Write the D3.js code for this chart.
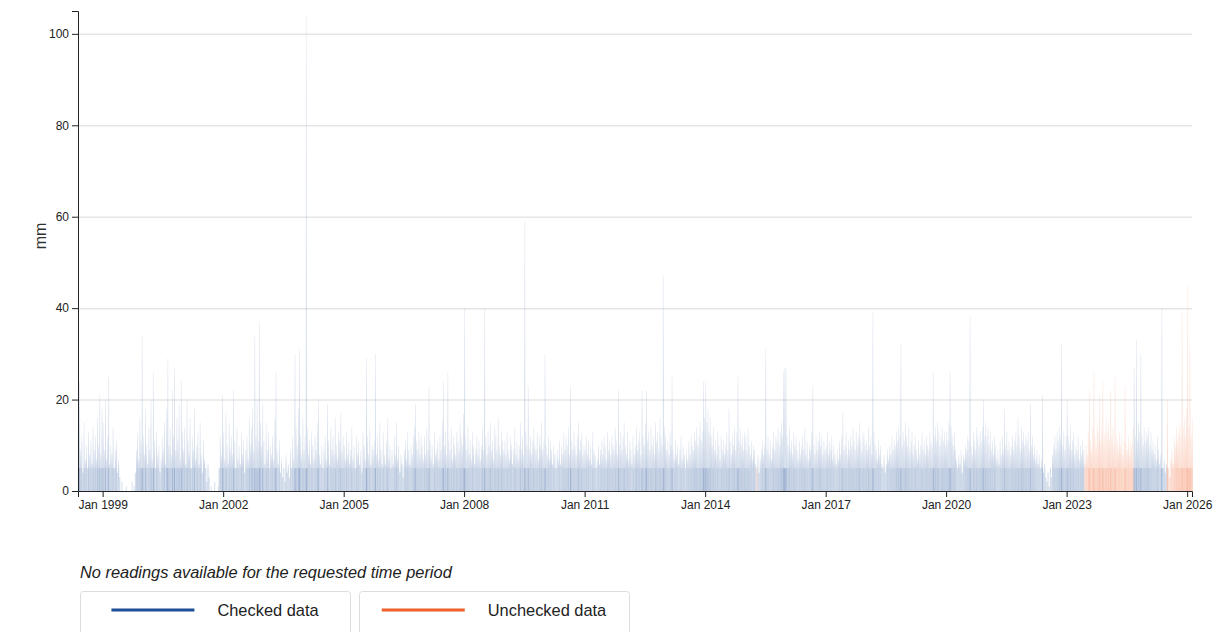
<!DOCTYPE html>
<html>
<head>
<meta charset="utf-8">
<script src="https://cdn.jsdelivr.net/npm/d3@7"></script>
<style>
  html, body { margin: 0; padding: 0; background: #fff; }
  svg { display: block; font-family: "Liberation Sans", Arial, sans-serif; }
  .axis text { font-size: 12px; fill: #222; }
  .axis path, .axis line { stroke: #222; }
</style>
</head>
<body>
<svg id="chart" width="1224" height="632"></svg>
<script>
// Daily rainfall summarised by dekad (days 1-10, 11-20, 21-end of each month):
// the largest daily total (mm) recorded in each dekad. null = no reading.
const rain1998 = [null,null,null,null,null,null,null,null,null,null,null,null,null,null,6,24,9,12,4,15,7,10,5,13,8,11,6,14,9,12,7,16,10,21,8,18];
const rain1999 = [15,9,20,7,12,25,6,10,8,14,5,9,11,4,7,3,0,2,0,0,0,1,0,0,0,0,2,0,1,4,9,13,7,16,11,34];
const rain2000 = [12,8,18,10,6,14,9,20,7,26,11,5,13,8,10,4,7,12,9,15,6,18,29,10,14,8,22,12,27,9,16,11,19,7,24,13];
const rain2001 = [9,14,6,20,11,8,16,5,12,9,18,7,10,13,6,15,8,4,11,7,5,2,6,3,0,1,0,0,2,0,0,1,5,12,8,21];
const rain2002 = [13,7,17,10,6,15,9,12,8,22,11,5,14,7,10,6,13,8,11,4,9,12,7,16,10,14,18,9,34,12,20,11,37,15,10,19];
const rain2003 = [11,6,15,9,13,5,10,8,12,7,16,26,9,6,11,4,7,3,5,2,8,4,6,3,9,5,12,7,30,14,10,18,31,12,8,16];
const rain2004 = [9,12,104,14,8,11,6,13,10,7,12,9,15,20,8,6,10,5,9,12,7,19,11,6,14,9,12,8,16,10,7,13,11,17,9,12];
const rain2005 = [10,7,13,8,11,6,9,14,7,10,5,12,8,11,6,9,4,13,10,7,29,12,8,14,6,10,9,11,30,8,12,7,15,9,6,13];
const rain2006 = [8,6,11,16,7,10,5,9,6,12,8,15,7,10,4,8,6,3,9,11,7,13,9,6,10,8,12,14,19,11,9,13,8,12,10,7];
const rain2007 = [12,8,14,9,23,11,7,10,6,13,8,9,11,7,12,9,15,24,10,13,8,26,11,9,14,7,12,10,8,13,11,9,15,12,10,17];
const rain2008 = [40,12,9,14,8,11,7,13,10,6,9,12,8,11,7,10,14,9,40,12,8,13,10,15,9,11,7,14,12,9,16,10,8,13,11,9];
const rain2009 = [11,8,13,9,7,12,10,6,9,14,8,11,7,10,15,9,12,8,59,13,10,23,9,12,8,11,14,10,9,13,7,12,10,15,9,11];
const rain2010 = [30,10,8,12,7,11,9,6,10,8,5,9,7,11,6,10,8,13,9,12,10,14,8,23,11,9,13,10,8,12,15,9,11,13,8,10];
const rain2011 = [9,12,8,11,7,10,6,13,9,8,5,7,10,6,9,11,8,12,10,7,13,9,11,8,12,10,9,14,11,8,22,10,13,9,12,15];
const rain2012 = [10,8,13,7,11,9,6,12,8,10,14,9,11,13,8,22,12,10,15,22,11,13,9,14,10,12,8,15,11,13,9,16,12,10,47,14];
const rain2013 = [12,9,11,8,13,10,25,9,7,11,8,10,6,9,12,7,10,8,5,9,7,11,8,12,10,9,13,11,14,10,12,15,11,13,24,16];
const rain2014 = [24,15,18,13,16,12,10,14,9,11,8,13,10,7,12,9,11,8,10,13,9,18,11,8,12,10,14,9,13,25,11,14,10,12,9,13];
const rain2015 = [12,9,14,10,8,11,7,10,9,6,5,8,4,7,9,11,8,10,31,9,12,8,11,7,10,13,9,12,11,14,10,13,15,12,26,27];
const rain2016 = [27,12,10,14,9,11,8,13,10,12,9,7,11,8,10,12,9,14,8,11,7,10,9,13,23,10,8,12,9,11,13,10,12,8,11,9];
const rain2017 = [10,13,8,11,9,12,7,10,8,6,9,7,11,8,12,17,9,10,13,8,11,9,12,10,14,11,9,13,10,12,15,11,9,13,12,10];
const rain2018 = [11,9,14,10,12,8,39,13,10,9,7,11,8,10,6,5,8,4,6,9,7,10,8,12,9,11,10,13,11,14,12,32,10,13,11,15];
const rain2019 = [12,10,14,9,11,13,8,10,12,9,7,11,8,10,13,9,11,8,12,10,9,13,11,10,26,12,14,11,15,13,10,12,14,11,13,10];
const rain2020 = [13,11,15,26,14,12,10,13,9,7,5,8,6,9,4,8,7,10,9,12,11,38,10,8,13,11,9,14,12,10,13,11,14,20,12,15];
const rain2021 = [12,14,10,13,9,11,8,12,10,7,9,6,11,8,12,9,18,10,13,9,11,8,10,12,9,11,13,10,16,12,9,14,11,13,10,12];
const rain2022 = [11,13,9,19,10,12,8,10,7,9,6,8,5,7,21,4,6,3,2,4,1,5,3,8,10,12,9,13,11,14,12,32,10,13,9,12];
const rain2023 = [20,12,10,14,9,11,13,8,10,9,12,7,10,8,11,9,6,10,8,13,22,11,9,14,26,12,10,15,13,21,11,14,24,12,13,16];
const rain2024 = [13,15,11,22,12,14,10,25,12,11,9,13,10,12,8,11,23,10,9,12,8,11,10,14,27,12,33,11,15,13,30,12,10,14,11,13];
const rain2025 = [12,14,10,13,9,11,8,10,7,12,9,6,8,40,5,7,4,6,20,5,3,7,9,6,12,10,14,11,13,15,12,39,14,16,12,18];
const rain2026 = [45,14,32,12,16];

const rainYears = [1998,1999,2000,2001,2002,2003,2004,2005,2006,2007,2008,2009,2010,2011,2012,
  2013,2014,2015,2016,2017,2018,2019,2020,2021,2022,2023,2024,2025,2026];
const rainByYear = [rain1998,rain1999,rain2000,rain2001,rain2002,rain2003,rain2004,rain2005,rain2006,
  rain2007,rain2008,rain2009,rain2010,rain2011,rain2012,rain2013,rain2014,rain2015,rain2016,rain2017,
  rain2018,rain2019,rain2020,rain2021,rain2022,rain2023,rain2024,rain2025,rain2026];

// Periods whose readings have not yet been quality checked
const uncheckedStart = ["2015-04-11", "2023-06-11", "2025-07-01"];
const uncheckedEnd   = ["2015-04-21", "2024-09-01", "2026-03-01"];

const yTicks = [0, 20, 40, 60, 80, 100];
const xTickYears = [1999, 2002, 2005, 2008, 2011, 2014, 2017, 2020, 2023, 2026];
const legendLabels = ["Checked data", "Unchecked data"];

const BLUE = "#1f4e96", ORANGE = "#f0602a";

const svg = d3.select("#chart");
const margin = {left: 78, right: 1192, top: 11, bottom: 491};

const x = d3.scaleTime()
  .domain([new Date(1998, 4, 22), new Date(2026, 1, 14)])
  .range([margin.left, margin.right]);
const y = d3.scaleLinear().domain([0, 105]).range([margin.bottom, margin.top]);

// Flatten the yearly dekad arrays into dated records
const dekadDay = [1, 11, 21];
const records = [];
rainYears.forEach((yr, yi) => {
  rainByYear[yi].forEach((v, i) => {
    if (v == null) return;
    const m = Math.floor(i / 3), k = i % 3;
    const start = new Date(yr, m, dekadDay[k]);
    const end = k < 2 ? new Date(yr, m, dekadDay[k + 1]) : new Date(yr, m + 1, 1);
    records.push({start, end, value: v});
  });
});
const unchecked = uncheckedStart.map((s, i) => [new Date(s), new Date(uncheckedEnd[i])]);
const isUnchecked = d => unchecked.some(([a, b]) => d.start >= a && d.start < b);

// Gridlines
svg.append("g").selectAll("line")
  .data(yTicks.filter(t => t > 0))
  .join("line")
  .attr("x1", margin.left).attr("x2", margin.right)
  .attr("y1", d => y(d) + 0.5).attr("y2", d => y(d) + 0.5)
  .attr("stroke", "#e6e6e6").attr("stroke-width", 1.5);

// Gradient for the upper part of each bar: fades towards the top
const defs = svg.append("defs");
[["fadeBlue", BLUE], ["fadeOrange", ORANGE]].forEach(([id, c]) => {
  const g = defs.append("linearGradient").attr("id", id)
    .attr("x1", 0).attr("y1", 1).attr("x2", 0).attr("y2", 0);
  g.append("stop").attr("offset", 0).attr("stop-color", c).attr("stop-opacity", 0.3);
  g.append("stop").attr("offset", 1).attr("stop-color", c).attr("stop-opacity", 0.1);
});

const plot = svg.append("g");
const wet = records.filter(d => d.value > 0);
const LOW = 5;

// Light-rain band (0 to 5 mm)
plot.append("g").selectAll("rect")
  .data(wet)
  .join("rect")
  .attr("x", d => x(d.start))
  .attr("width", d => Math.max(0.6, x(d.end) - x(d.start)))
  .attr("y", d => y(Math.min(d.value, LOW)))
  .attr("height", d => y(0) - y(Math.min(d.value, LOW)))
  .attr("fill", d => isUnchecked(d) ? ORANGE : BLUE)
  .attr("fill-opacity", d => 0.14 + 0.3 * Math.min(d.value, 25) / 25);

// Daily peaks above the band
plot.append("g").selectAll("rect")
  .data(wet.filter(d => d.value > LOW))
  .join("rect")
  .attr("x", d => (x(d.start) + x(d.end)) / 2 - 0.4)
  .attr("width", 0.8)
  .attr("y", d => y(d.value))
  .attr("height", d => y(LOW) - y(d.value))
  .attr("fill", d => isUnchecked(d) ? "url(#fadeOrange)" : "url(#fadeBlue)");

// Axes
svg.append("g").attr("class", "axis")
  .attr("transform", `translate(${margin.left},0)`)
  .call(d3.axisLeft(y).tickValues(yTicks).tickFormat(d3.format("d")));

svg.append("g").attr("class", "axis")
  .attr("transform", `translate(0,${margin.bottom})`)
  .call(d3.axisBottom(x)
    .tickValues(xTickYears.map(yr => new Date(yr, 0, 1)))
    .tickFormat(d3.timeFormat("%b %Y")));

svg.append("text")
  .attr("transform", "translate(46,236) rotate(-90)")
  .attr("text-anchor", "middle")
  .attr("font-size", 16).attr("fill", "#333")
  .text("mm");

// Notice and legend
svg.append("text")
  .attr("x", 80).attr("y", 578)
  .attr("font-size", 16.4).attr("font-style", "italic").attr("fill", "#222")
  .text("No readings available for the requested time period");

const legendColors = [BLUE, ORANGE];
const BOX_W = 270, LINE_W = 83, GAP = 23;
legendLabels.forEach((lab, i) => {
  const g = svg.append("g").attr("transform", `translate(${80 + i * 279},591)`);
  g.append("rect").attr("x", 0.5).attr("y", 0.5)
    .attr("width", BOX_W).attr("height", 60).attr("rx", 3)
    .attr("fill", "#fff").attr("stroke", "#ddd");
  const t = g.append("text").attr("y", 25)
    .attr("font-size", 16.4).attr("fill", "#222").text(lab);
  const tw = t.node().getComputedTextLength();
  const x0 = (BOX_W - (LINE_W + GAP + tw)) / 2;
  g.append("line").attr("x1", x0).attr("x2", x0 + LINE_W).attr("y1", 19).attr("y2", 19)
    .attr("stroke", legendColors[i]).attr("stroke-width", 3);
  t.attr("x", x0 + LINE_W + GAP);
});
</script>
</body>
</html>
